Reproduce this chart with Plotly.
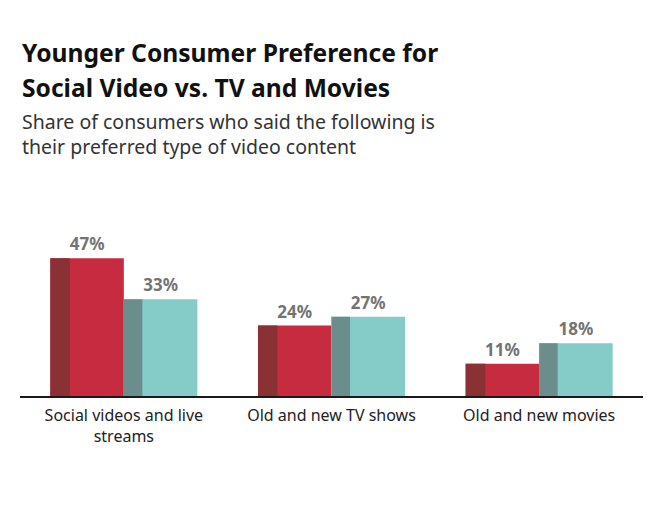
import plotly.graph_objects as go

# Données -----------------------------------------------------------------
categories = ["Social videos and live<br>streams", "Old and new TV shows", "Old and new movies"]
social_tv = [47, 24, 11]      # série rouge
social_other = [33, 27, 18]   # série turquoise
labels_red = ["47%", "24%", "11%"]
labels_teal = ["33%", "27%", "18%"]

FONT = "Noto Sans"
RED, RED_DARK = "#c72b40", "#8a3136"
TEAL, TEAL_DARK = "#85cbc7", "#6b8e8d"
W = 0.354      # largeur d'une barre (unité catégorie)
STRIP = 0.094  # bande sombre à gauche

fig = go.Figure()

# barres rouges
fig.add_trace(go.Bar(x=categories, y=social_tv, width=W, offset=-W, marker_color=RED,
                     marker_line_width=0, text=labels_red, textposition="outside",
                     textfont=dict(family=FONT, size=17, color="#737373", weight="bold"),
                     cliponaxis=False, hoverinfo="skip"))
fig.add_trace(go.Bar(x=categories, y=social_tv, width=STRIP, offset=-W, marker_color=RED_DARK,
                     marker_line_width=0, hoverinfo="skip"))
# barres turquoise
fig.add_trace(go.Bar(x=categories, y=social_other, width=W, offset=0, marker_color=TEAL,
                     marker_line_width=0, text=labels_teal, textposition="outside",
                     textfont=dict(family=FONT, size=17, color="#737373", weight="bold"),
                     cliponaxis=False, hoverinfo="skip"))
fig.add_trace(go.Bar(x=categories, y=social_other, width=STRIP * 0.95, offset=0, marker_color=TEAL_DARK,
                     marker_line_width=0, hoverinfo="skip"))

# Titres --------------------------------------------------------------------
def ypix(py):
    # position verticale (pixels de la page) -> coordonnées paper
    return (396 - py) / 176

titles = [
    ("Younger Consumer Preference for", 52, 24.6, "#111111", "bold"),
    ("Social Video vs. TV and Movies", 87, 24.6, "#111111", "bold"),
    ("Share of consumers who said the following is<br>their preferred type of video content",
     133.5, 19.5, "#333333", "normal"),
]
for txt, mid, size, col, w in titles:
    fig.add_annotation(text=txt, x=0, xref="paper", xanchor="left", align="left",
                       y=ypix(mid), yref="paper", yanchor="middle",
                       showarrow=False,
                       font=dict(family=FONT, size=size, color=col, weight=w))

fig.update_layout(
    width=665, height=528,
    barmode="overlay",
    showlegend=False,
    plot_bgcolor="white", paper_bgcolor="white",
    margin=dict(l=12, r=30, t=212, b=140),
    xaxis=dict(showline=True, linecolor="#1a1a1a", linewidth=2, ticks="",
               ticklabelstandoff=4,
               tickfont=dict(family=FONT, size=16, color="#222222"),
               range=[-0.5, 2.5], fixedrange=True),
    yaxis=dict(visible=False, range=[0, 60], showgrid=False, zeroline=False),
)

fig.write_html("out.html")
